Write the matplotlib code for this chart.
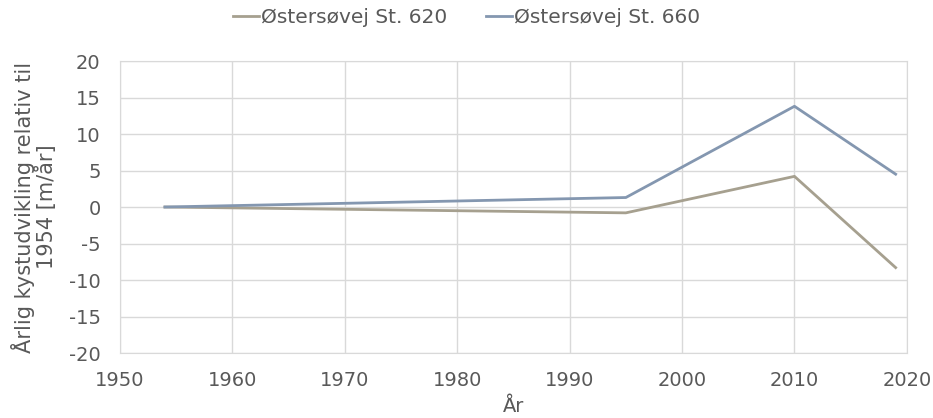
import matplotlib
matplotlib.use("Agg")
import matplotlib.pyplot as plt

years = [1954, 1995, 2010, 2019]
st620 = [0.0, -0.8, 4.2, -8.3]
st660 = [0.0, 1.3, 13.8, 4.5]
labels = ["Østersøvej St. 620", "Østersøvej St. 660"]
colors = ["#A6A08F", "#8497B0"]

plt.rcParams['font.family'] = ['DejaVu Sans']
plt.rcParams['axes.unicode_minus'] = False
fig = plt.figure(figsize=(9.33, 4.18), dpi=100)
ax = fig.add_axes([0.1286, 0.1555, 0.8434, 0.6985])
ax.plot(years, st620, color=colors[0], lw=2, label=labels[0])
ax.plot(years, st660, color=colors[1], lw=2, label=labels[1])
ax.set_xlim(1950, 2020)
ax.set_ylim(-20, 20)
ax.set_xticks(range(1950, 2021, 10))
ax.set_yticks(range(-20, 21, 5))
ax.grid(True, color="#D9D9D9", lw=1)
ax.set_axisbelow(True)
for s in ["top", "right", "left", "bottom"]:
    ax.spines[s].set_color("#D9D9D9")
ax.tick_params(axis='both', length=0, labelsize=14, colors="#595959")
ax.tick_params(axis='x', pad=13)
ax.tick_params(axis='y', pad=14)
ax.set_xlabel("År", fontsize=14, color="#595959", labelpad=5)
ax.set_ylabel("Årlig kystudvikling relativ til\n1954 [m/år]", fontsize=15, color="#595959", labelpad=8, linespacing=1.05)
fig.legend(loc="upper center", bbox_to_anchor=(0.5, 1.025), ncol=2, frameon=False,
           fontsize=14.5, labelcolor="#595959", handlelength=1.3, handletextpad=0.1, columnspacing=1.9)
fig.savefig("out.png", dpi=100)
